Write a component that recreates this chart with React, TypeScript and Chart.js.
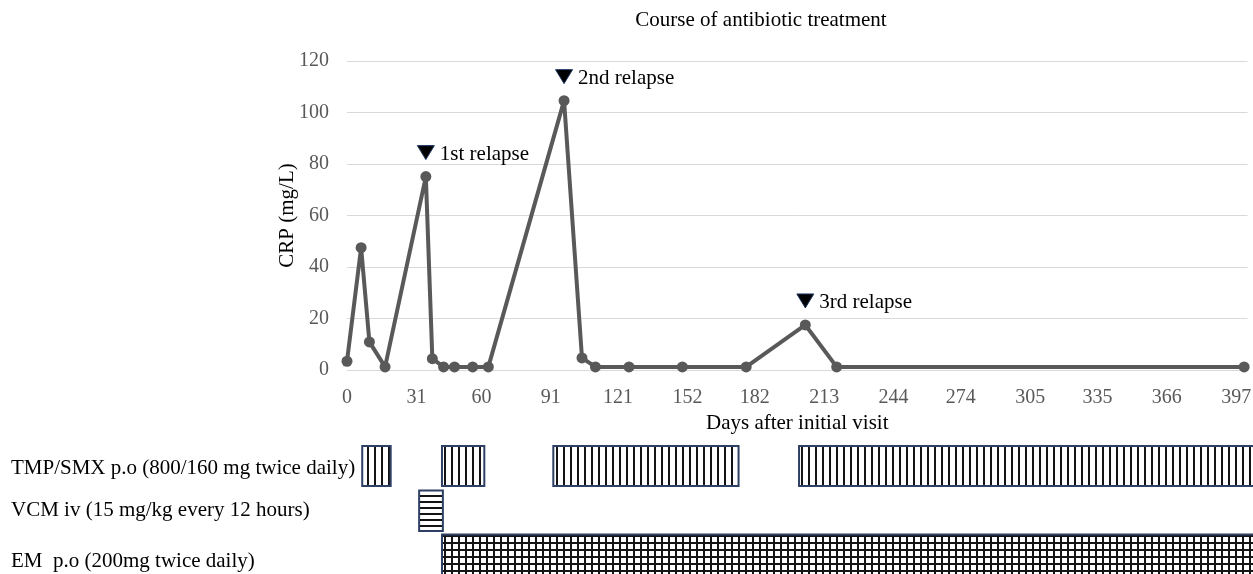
import React, { useEffect, useRef } from "react";
import { Chart, registerables } from "chart.js";

Chart.register(...registerables);

// ---- data ----
const crpDays = [0, 6.3, 10, 17, 35.2, 38.1, 43.1, 48, 56.1, 63.1, 96.9, 104.9, 110.9, 125.9, 149.7, 178.2, 204.6, 218.6, 400.5];
const crpValues = [3.4, 47.5, 10.9, 1.2, 75.1, 4.4, 1.2, 1.2, 1.2, 1.2, 104.6, 4.7, 1.2, 1.2, 1.2, 1.2, 17.5, 1.2, 1.2];
const xTickDays = [0, 31, 60, 91, 121, 152, 182, 213, 244, 274, 305, 335, 366, 397];
const yTickValues = [0, 20, 40, 60, 80, 100, 120];
const relapseIndex = [4, 10, 16];
const relapseLabels = ["1st relapse", "2nd relapse", "3rd relapse"];
const drugNames = [
  "TMP/SMX p.o (800/160 mg twice daily)",
  "VCM iv (15 mg/kg every 12 hours)",
  "EM  p.o (200mg twice daily)",
];
const tmpStart = [6.8, 42.4, 92.1, 201.8];
const tmpEnd = [19.5, 61.3, 174.8, 420];
const vcmStart = [32.2];
const vcmEnd = [42.8];
const emStart = [42.4];
const emEnd = [420];
const chartTitle = "Course of antibiotic treatment";
const xTitle = "Days after initial visit";
const yTitle = "CRP (mg/L)";

const SERIF = '"Liberation Serif", "Times New Roman", serif';

function makePattern(ctx: CanvasRenderingContext2D, kind: string): CanvasPattern | string {
  const c = document.createElement("canvas");
  const w = 7;
  const h = kind === "h" ? 6 : 7;
  c.width = kind === "h" ? 1 : w;
  c.height = kind === "v" ? 1 : h;
  const g = c.getContext("2d")!;
  g.fillStyle = "#ffffff";
  g.fillRect(0, 0, c.width, c.height);
  g.fillStyle = "#141414";
  if (kind === "v" || kind === "g") g.fillRect(3, 0, 2, c.height);
  if (kind === "h" || kind === "g") g.fillRect(0, 3, c.width, 2);
  return ctx.createPattern(c, "repeat") || "#fff";
}

const overlayPlugin = {
  id: "overlay",
  afterDraw(chart: any) {
    const ctx: CanvasRenderingContext2D = chart.ctx;
    const area = chart.chartArea;
    const xs = chart.scales.x;
    ctx.save();

    // title
    ctx.font = `21px ${SERIF}`;
    ctx.fillStyle = "#000";
    ctx.textAlign = "center";
    ctx.textBaseline = "middle";
    ctx.fillText(chartTitle, area.left + 414, area.top - 41);

    // relapse markers
    const meta = chart.getDatasetMeta(0);
    relapseIndex.forEach((idx, i) => {
      const pt = meta.data[idx];
      if (!pt) return;
      const cx = pt.x;
      const cy = pt.y - 24;
      ctx.beginPath();
      ctx.moveTo(cx - 8.5, cy - 7);
      ctx.lineTo(cx + 8.5, cy - 7);
      ctx.lineTo(cx, cy + 7);
      ctx.closePath();
      ctx.fillStyle = "#000";
      ctx.fill();
      ctx.strokeStyle = "#1f3864";
      ctx.lineWidth = 1;
      ctx.stroke();
      ctx.font = `21px ${SERIF}`;
      ctx.fillStyle = "#000";
      ctx.textAlign = "left";
      ctx.textBaseline = "alphabetic";
      ctx.fillText(relapseLabels[i], cx + 14, cy + 7);
    });

    // treatment rows
    const rows = [
      { starts: tmpStart, ends: tmpEnd, kind: "v", top: area.bottom + 76, h: 40, base: area.bottom + 104 },
      { starts: vcmStart, ends: vcmEnd, kind: "h", top: area.bottom + 120.5, h: 40.5, base: area.bottom + 146 },
      { starts: emStart, ends: emEnd, kind: "g", top: area.bottom + 164.5, h: 60, base: area.bottom + 197 },
    ];
    rows.forEach((row, r) => {
      const pat = makePattern(ctx, row.kind);
      row.starts.forEach((s, k) => {
        const x1 = xs.getPixelForValue(s);
        const x2 = xs.getPixelForValue(row.ends[k]);
        ctx.fillStyle = pat as any;
        ctx.fillRect(x1, row.top, x2 - x1, row.h);
        ctx.strokeStyle = "#2e4064";
        ctx.lineWidth = 2;
        ctx.strokeRect(x1, row.top, x2 - x1, row.h);
      });
      ctx.font = `21px ${SERIF}`;
      ctx.fillStyle = "#000";
      ctx.textAlign = "left";
      ctx.textBaseline = "alphabetic";
      ctx.fillText(drugNames[r], 11, row.base);
    });

    ctx.restore();
  },
};

export default function App() {
  const ref = useRef<HTMLCanvasElement | null>(null);

  useEffect(() => {
    if (!ref.current) return;
    const chart = new Chart(ref.current, {
      type: "line",
      data: {
        datasets: [
          {
            data: crpDays.map((d, i) => ({ x: d, y: crpValues[i] })),
            borderColor: "#595959",
            backgroundColor: "#595959",
            pointBackgroundColor: "#595959",
            pointBorderColor: "#595959",
            borderWidth: 4,
            borderJoinStyle: "round",
            borderCapStyle: "round",
            pointRadius: 5.5,
            pointBorderWidth: 0,
            tension: 0,
            clip: false,
          },
        ],
      },
      options: {
        animation: false,
        responsive: true,
        maintainAspectRatio: false,
        layout: { padding: { top: 61, left: 0, right: 0, bottom: 138 } },
        plugins: {
          legend: { display: false },
          tooltip: { enabled: false },
          title: { display: false },
        },
        scales: {
          x: {
            type: "linear",
            min: 0,
            max: 402,
            grid: { display: false },
            border: { display: false },
            afterBuildTicks: (s: any) => {
              s.ticks = xTickDays.map((v) => ({ value: v }));
            },
            afterFit: (s: any) => {
              s.height = 66;
              s.paddingRight = 0;
            },
            ticks: {
              color: "#595959",
              font: { family: SERIF, size: 20 },
              padding: 8,
              maxRotation: 0,
              autoSkip: false,
            },
            title: {
              display: true,
              text: xTitle,
              color: "#000",
              font: { family: SERIF, size: 21 },
              padding: { top: 0, bottom: 0 },
            },
          },
          y: {
            min: 0,
            max: 120,
            afterBuildTicks: (s: any) => {
              s.ticks = yTickValues.map((v) => ({ value: v }));
            },
            afterFit: (s: any) => {
              s.width = 347;
            },
            grid: { color: "#d9d9d9", lineWidth: 1, drawTicks: false },
            border: { display: false },
            ticks: {
              color: "#595959",
              font: { family: SERIF, size: 20 },
              padding: 18,
            },
            title: {
              display: true,
              text: yTitle,
              color: "#000",
              font: { family: SERIF, size: 21 },
              padding: { top: 275, bottom: 0 },
            },
          },
        },
      },
      plugins: [overlayPlugin],
    } as any);
    return () => chart.destroy();
  }, []);

  return (
    <div style={{ position: "absolute", left: 0, top: 0, width: 1253, height: 574, overflow: "hidden", background: "#fff" }}>
      <canvas ref={ref} />
    </div>
  );
}
